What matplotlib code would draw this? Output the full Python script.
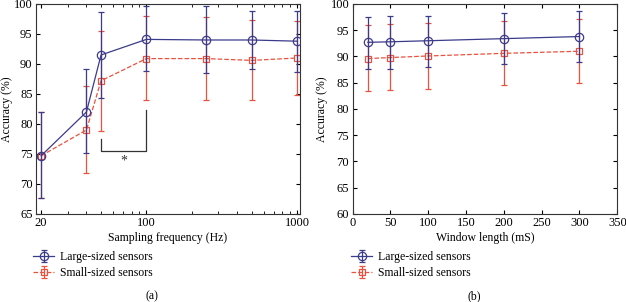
import matplotlib
matplotlib.use("Agg")
import matplotlib.pyplot as plt
import numpy as np

plt.rcParams['font.family'] = ['Liberation Serif', 'DejaVu Serif']
plt.rcParams['font.size'] = 9

# (a) sampling frequency
freq = [20, 40, 50, 100, 250, 500, 1000]
large_a = [74.7, 82.0, 91.5, 94.1, 94.0, 94.0, 93.8]
large_a_hi = [82.0, 89.1, 98.6, 99.6, 99.6, 98.9, 98.8]
large_a_lo = [67.6, 75.1, 84.4, 88.9, 88.5, 89.1, 88.7]
small_a = [74.7, 79.0, 87.2, 90.9, 90.9, 90.6, 91.0]
small_a_hi = [82.0, 86.3, 95.5, 98.0, 97.8, 97.3, 97.2]
small_a_lo = [67.6, 71.8, 78.8, 84.0, 84.0, 84.0, 84.9]

# (b) window length
win = [20, 50, 100, 200, 300]
large_b = [92.7, 92.8, 93.0, 93.4, 93.8]
large_b_hi = [97.6, 97.8, 97.8, 98.3, 98.7]
large_b_lo = [87.7, 87.7, 88.0, 88.5, 88.9]
small_b = [89.6, 89.8, 90.1, 90.6, 91.0]
small_b_hi = [96.0, 96.1, 96.4, 96.8, 97.1]
small_b_lo = [83.4, 83.6, 83.9, 84.5, 84.9]

BLUE = '#3b3b8c'
RED = '#e8533f'


def draw(ax, x, yl, yl_hi, yl_lo, ys, ys_hi, ys_lo):
    yl = np.array(yl); ys = np.array(ys)
    el = [yl - np.array(yl_lo), np.array(yl_hi) - yl]
    es = [ys - np.array(ys_lo), np.array(ys_hi) - ys]
    h1 = ax.errorbar(x, yl, yerr=el, color=BLUE, marker='o', ms=6, mfc='none',
                     mew=0.9, lw=0.9, elinewidth=0.9, capsize=2.5, zorder=3)
    h2 = ax.errorbar(x, ys, yerr=es, color=RED, marker='s', ms=5, mfc='none',
                     mew=0.9, lw=0.9, ls='--', elinewidth=0.9, capsize=2.5, zorder=2)
    ax.tick_params(which='both', direction='in', top=True, right=True, labelsize=9, pad=2.5)
    ax.tick_params(which='major', length=3)
    ax.tick_params(which='minor', length=2)
    for s in ax.spines.values():
        s.set_color('#333333')
        s.set_linewidth(0.8)
    return h1, h2


fig = plt.figure(figsize=(6.26, 3.02), dpi=100)
ax1 = fig.add_axes([0.0575, 0.2914, 0.4217, 0.6954])
ax2 = fig.add_axes([0.5634, 0.2914, 0.4227, 0.6954])

h1, h2 = draw(ax1, freq, large_a, large_a_hi, large_a_lo, small_a, small_a_hi, small_a_lo)
ax1.set_xscale('log')
ax1.set_xlim(18.5, 1047)
ax1.set_ylim(65, 100)
ax1.set_xticks([20, 100, 1000])
ax1.set_xticklabels(['20', '100', '1000'])
ax1.set_yticks(np.arange(65, 101, 5))
ax1.set_xlabel('Sampling frequency (Hz)', labelpad=2, fontsize=8.5)
ax1.set_ylabel('Accuracy (%)', labelpad=0.5, fontsize=8.5)

# significance bracket between 50 Hz and 100 Hz
ax1.plot([50, 50, 100, 100], [77.5, 75.55, 75.55, 82.3], color='#333333', lw=0.9)
ax1.text(70.7, 73.9, '*', ha='center', va='center', fontsize=10, color='#333333')

g1, g2 = draw(ax2, win, large_b, large_b_hi, large_b_lo, small_b, small_b_hi, small_b_lo)
ax2.set_xlim(0, 350)
ax2.set_ylim(60, 100)
ax2.set_xticks(np.arange(0, 351, 50))
ax2.set_yticks(np.arange(60, 101, 5))
ax2.set_xlabel('Window length (mS)', labelpad=2, fontsize=8.5)
ax2.set_ylabel('Accuracy (%)', labelpad=1.5, fontsize=8.5)

labels = ['Large-sized sensors', 'Small-sized sensors']
fig.legend([h1, h2], labels, loc='upper left', bbox_to_anchor=(33 / 626, 1 - 251 / 302),
           frameon=False, borderpad=0, borderaxespad=0, handlelength=1.8,
           handletextpad=0.5, labelspacing=0.35, fontsize=8.5)
fig.legend([g1, g2], labels, loc='upper left', bbox_to_anchor=(351 / 626, 1 - 251 / 302),
           frameon=False, borderpad=0, borderaxespad=0, handlelength=1.8,
           handletextpad=0.5, labelspacing=0.35, fontsize=8.5)

fig.text(152 / 626, 1 - 296 / 302, '(a)', ha='center', va='center', fontsize=8.5)
fig.text(474 / 626, 1 - 296 / 302, '(b)', ha='center', va='center', fontsize=8.5)

fig.savefig('out.png', dpi=100)
